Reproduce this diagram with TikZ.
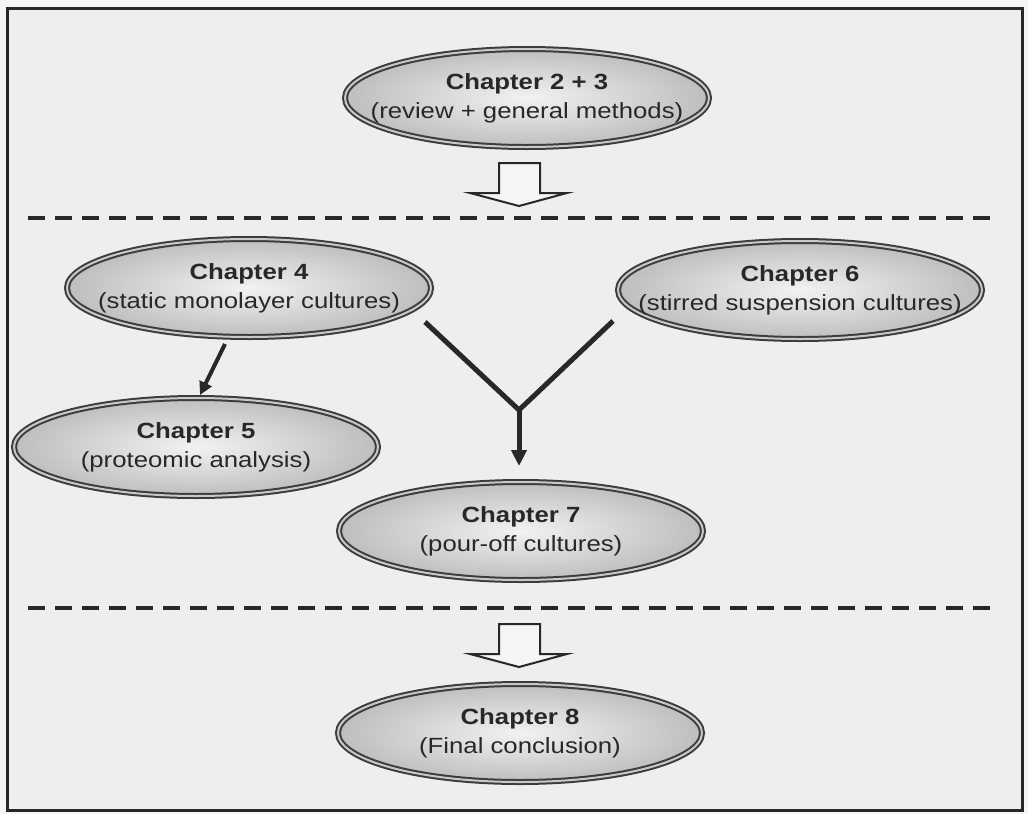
\documentclass[tikz,border=0pt]{standalone}
\usepackage{fontspec}
\setmainfont{Liberation Sans}[FakeStretch=1.17]
\usetikzlibrary{shapes.geometric,arrows.meta,calc}
\definecolor{bg}{RGB}{238,238,238}
\definecolor{outbg}{RGB}{245,245,245}
\definecolor{ink}{RGB}{40,40,40}
\definecolor{ring}{RGB}{60,60,60}
\definecolor{gap}{RGB}{200,200,200}
\definecolor{shin}{RGB}{242,242,242}
\definecolor{shout}{RGB}{190,190,190}
\begin{document}
\begin{tikzpicture}[x=1pt,y=-1pt,
  chap/.style={ellipse, minimum width=364pt, minimum height=98pt,
    inner xsep=-70pt, inner ysep=-10pt,
    draw=ring, double=gap, double distance=2pt, line width=2pt,
    inner color=shin, outer color=shout, text=ink, align=center,
    font=\fontsize{22}{29}\selectfont},
  conn/.style={draw=ink, line width=5pt, line cap=butt, line join=miter},
  sep/.style={draw=ink, line width=4pt, dash pattern=on 17pt off 10pt},
  blockarrow/.style={draw=ink, line width=2pt, fill=bg!60!white, line join=miter}
]
\useasboundingbox (0,0) rectangle (1028,814);
\fill[outbg] (0,0) rectangle (1028,814);
\fill[bg] (7,8) rectangle (1022,810);
\draw[ink, line width=3pt] (7,8) rectangle (1022,810);

% separators
\draw[sep] (28,218) -- (990,218);
\draw[sep] (28,608) -- (992,608);

% nodes
\node[chap] (c23) at (527,98) {\textbf{Chapter 2 + 3}\\(review + general methods)};
\node[chap] (c4) at (249,288) {\textbf{Chapter 4}\\(static monolayer cultures)};
\node[chap] (c6) at (800,290) {\textbf{Chapter 6}\\(stirred suspension cultures)};
\node[chap] (c5) at (196,447) {\textbf{Chapter 5}\\(proteomic analysis)};
\node[chap] (c7) at (521,531) {\textbf{Chapter 7}\\(pour-off cultures)};
\node[chap] (c8) at (520,733) {\textbf{Chapter 8}\\(Final conclusion)};

% hollow block arrows
\draw[blockarrow] (499,163) -- (540,163) -- (540,193) -- (567,193) -- (519,206)
  -- (470,193) -- (499,193) -- cycle;
\draw[blockarrow] (499,624) -- (540,624) -- (540,654) -- (567,654) -- (519,667)
  -- (470,654) -- (499,654) -- cycle;

% connectors
\draw[conn, line width=4pt, -{Triangle[width=13pt,length=13pt]}]
  ($(c4.south)+(-24,6)$) -- ($(c5.north)+(4,-2)$);
\coordinate (J) at (519,410);
\draw[conn] ($(c4.east)+(-7,34)$) -- (J) -- ($(c6.west)+(-4,31)$);
\draw[conn, -{Triangle[width=15pt,length=16pt]}] (J) -- ($(c7.north)+(-2,-15)$);
\end{tikzpicture}
\end{document}
